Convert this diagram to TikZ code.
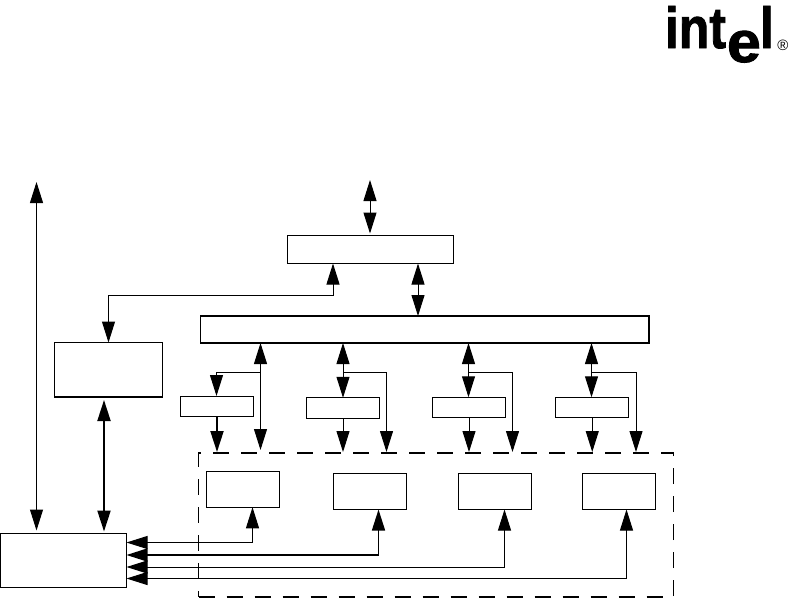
\documentclass[tikz,border=0pt]{standalone}
\usepackage{fontspec}
\setmainfont{Liberation Sans}
\newfontfamily\logofont[FakeBold=1.6]{Liberation Sans Bold}
\usepackage{tikz}
\usetikzlibrary{arrows.meta}

\begin{document}
\begin{tikzpicture}[
  x=1pt, y=-1pt,
  nd/.style={rectangle, draw=black, line width=1pt, inner sep=0pt, outer sep=0pt},
  heavynd/.style={nd, line width=1.5pt},
  smallnd/.style={nd, minimum width=73pt, minimum height=20.5pt},
  innernd/.style={nd, minimum width=73pt, minimum height=36pt},
  groupnd/.style={nd, line width=1.4pt, dash pattern=on 16pt off 12pt,
    minimum width=475pt, minimum height=144pt},
  arr/.style={-{Triangle[length=21pt,width=13pt]}, line width=1pt, black},
  dbl/.style={{Triangle[length=21pt,width=13pt]}-{Triangle[length=21pt,width=13pt]}, line width=1pt, black},
  logo/.style={inner sep=0pt, outer sep=0pt, font=\fontsize{58}{58}\selectfont\logofont, xscale=0.86},
]
  \useasboundingbox (0,0) rectangle (789,598);

  % logo
  \node[logo, anchor=base west] (logoint) at (665,48) {int};
  \node[logo, anchor=base west, xscale=1.22] (logoe) at (727,62) {e};
  \node[logo, anchor=base west] (logol) at (760,48) {l};
  \node[inner sep=0pt, font=\fontsize{15}{15}\selectfont] (logoreg) at (783,45) {®};

  % boxes
  \node[nd, minimum width=126pt, minimum height=53.5pt] (host) at (63.5,560.25) {};
  \node[heavynd, minimum width=108pt, minimum height=54.5pt] (side) at (108.5,369.75) {};
  \node[nd, minimum width=166pt, minimum height=28pt] (top) at (370.5,249.5) {};
  \node[heavynd, minimum width=448.5pt, minimum height=27pt] (bar) at (424.75,329.5) {};
  \node[smallnd] (small1) at (217,406.25) {};
  \node[smallnd] (small2) at (343,408) {};
  \node[smallnd] (small3) at (469,407.5) {};
  \node[smallnd] (small4) at (592.25,407.5) {};
  \node[groupnd] (group) at (436,525) {};
  \node[innernd] (inner1) at (243,489.25) {};
  \node[innernd] (inner2) at (369.75,491.5) {};
  \node[innernd] (inner3) at (495,491.5) {};
  \node[innernd] (inner4) at (619,491.5) {};

  % free ends and bends
  \coordinate (leftend) at (36.5,182);
  \coordinate (topend) at (370,180);
  \coordinate (bend) at (333,295);
  \coordinate (sidearr) at (104,400);
  \coordinate (link) at (418,263);
  \coordinate (br1) at (260.5,372.5);
  \coordinate (br2) at (343,372.5);
  \coordinate (br3) at (468.5,372.5);
  \coordinate (br4) at (591.5,372.5);
  \coordinate (drop1) at (216.5,372.5);
  \coordinate (drop2) at (386.5,372.5);
  \coordinate (drop3) at (512.5,372.5);
  \coordinate (drop4) at (636,372.5);
  \coordinate (ret1) at (252.5,542.5);
  \coordinate (ret2) at (378.5,555);
  \coordinate (ret3) at (504.5,567);
  \coordinate (ret4) at (626.5,578.5);

  % outer links
  \draw[dbl, shorten >=3pt] (leftend) -- (leftend |- host.north);
  \draw[dbl, shorten >=2pt] (topend) -- (topend |- top.north);
  \draw[dbl] (link |- top.south) -- (link |- bar.north);
  \draw[dbl] (bend |- top.south) -- (bend) -- (bend -| side.north) -- (side.north);
  \draw[dbl, line width=2pt, shorten <=3pt, shorten >=2pt] (sidearr |- side.south) -- (sidearr |- host.north);

  % bar to the group
  \draw[dbl, shorten >=3pt] (br1 |- bar.south) -- (br1 |- group.north);
  \draw[arr] (br1) -- (drop1) -- (drop1 |- small1.north);
  \draw[arr, line width=2pt, shorten >=1pt] (small1.south) -- (small1.south |- group.north);
  \draw[dbl] (br2 |- bar.south) -- (br2 |- small2.north);
  \draw[arr, shorten >=1pt] (br2) -- (drop2) -- (drop2 |- group.north);
  \draw[arr, shorten >=1pt] (small2.south) -- (small2.south |- group.north);
  \draw[dbl] (br3 |- bar.south) -- (br3 |- small3.north);
  \draw[arr, shorten >=1pt] (br3) -- (drop3) -- (drop3 |- group.north);
  \draw[arr, shorten >=1pt] (small3.south) -- (small3.south |- group.north);
  \draw[dbl] (br4 |- bar.south) -- (br4 |- small4.north);
  \draw[arr, shorten >=1pt] (br4) -- (drop4) -- (drop4 |- group.north);
  \draw[arr, shorten >=1pt] (small4.south) -- (small4.south |- group.north);

  % return lines
  \draw[dbl] (host.east |- ret1) -- (ret1) -- (ret1 |- inner1.south);
  \draw[dbl, line width=1.6pt] (host.east |- ret2) -- (ret2) -- (ret2 |- inner2.south);
  \draw[dbl] (host.east |- ret3) -- (ret3) -- (ret3 |- inner3.south);
  \draw[dbl] (host.east |- ret4) -- (ret4) -- (ret4 |- inner4.south);
\end{tikzpicture}
\end{document}
